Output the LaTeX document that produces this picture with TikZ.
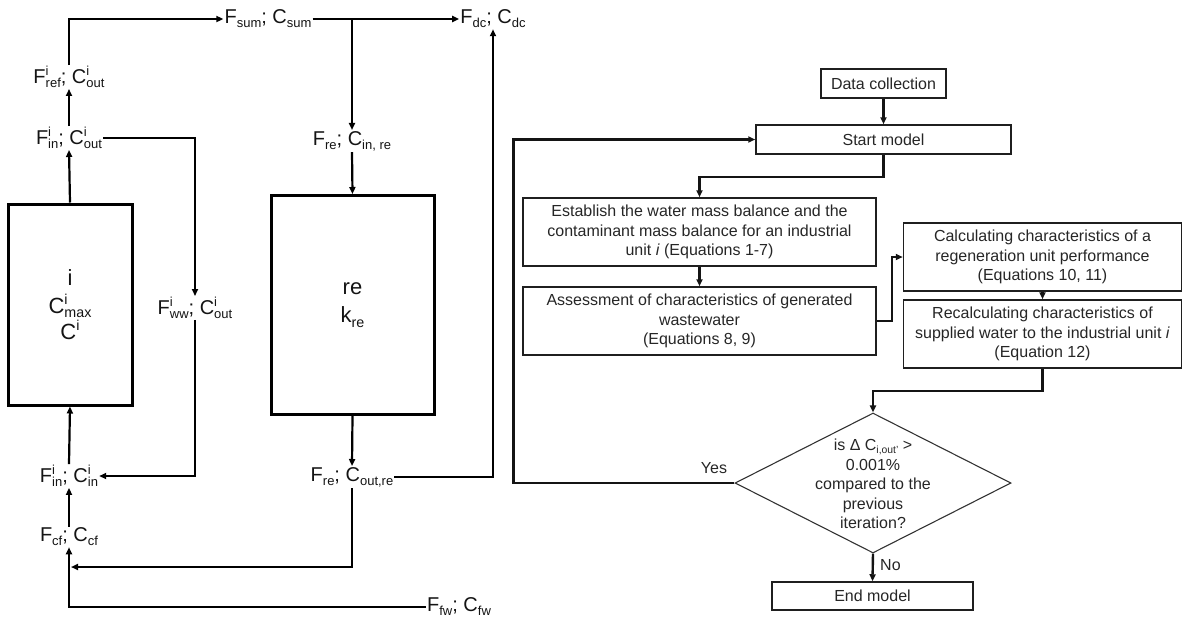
\documentclass[tikz,border=0pt]{standalone}
\usepackage{fontspec}
\setmainfont{Liberation Sans}
\usetikzlibrary{arrows.meta,shapes.geometric}
\newcommand\Sp[1]{\raisebox{0.4em}{\fontsize{0.65\dimexpr\fontdimen6\font\relax}{0pt}\selectfont #1}}
\newcommand\Sb[1]{\raisebox{-0.2em}{\fontsize{0.65\dimexpr\fontdimen6\font\relax}{0pt}\selectfont #1}}
\newcommand\SupSub[2]{\rlap{\Sp{#1}}\Sb{#2}}
\begin{document}
\begin{tikzpicture}[x=1pt,y=-1pt,
  lab/.style={font=\fontsize{20}{24}\selectfont, inner sep=1pt, text=black!92},
  unitbox/.style={draw, line width=3pt, align=center, font=\fontsize{22}{28}\selectfont, text=black!92},
  arr/.style={line width=2.2pt, -{Triangle[length=7pt,width=6pt]}},
  fbox/.style={draw=black!88, line width=1.5pt, align=center, font=\fontsize{16}{19.5}\selectfont, inner sep=0pt, text=black!85},
  farr/.style={line width=2.4pt, draw=black!92, -{Triangle[length=7pt,width=6pt]}},
  flab/.style={font=\fontsize{16}{19.5}\selectfont, text=black!85, inner sep=1pt}
]
\useasboundingbox (0,0) rectangle (1184,619);
% ---------------- left diagram ----------------
\node[lab] (sum) at (268,19) {F\Sb{sum}; C\Sb{sum}};
\node[lab] (dc) at (493,19) {F\Sb{dc}; C\Sb{dc}};
\node[lab] (ref) at (69,77) {F\SupSub{i}{ref}; C\SupSub{i}{out}};
\node[lab] (inout) at (69,138) {F\SupSub{i}{in}; C\SupSub{i}{out}};
\node[lab] (ww) at (195,308) {F\SupSub{i}{ww}; C\SupSub{i}{out}};
\node[lab] (inin) at (69,476) {F\SupSub{i}{in}; C\SupSub{i}{in}};
\node[lab] (cf) at (69,537) {F\Sb{cf}; C\Sb{cf}};
\node[lab] (fw) at (459,607) {F\Sb{fw}; C\Sb{fw}};
\node[lab] (rein) at (352,141) {F\Sb{re}; C\Sb{in, re}};
\node[lab] (reout) at (352,477) {F\Sb{re}; C\Sb{out,re}};
\node[unitbox, minimum width=124, minimum height=201] (unit) at (70,304.5)
  {i\\C\SupSub{i}{max}\\[-2pt]C\Sp{i}};
\node[unitbox, minimum width=163, minimum height=219] (rebox) at (352.5,305)
  {re\\k\Sb{re}};
\coordinate (m1) at (71,567);

\draw[arr] (ref.north) |- (sum.west);
\draw[arr] (sum.east) -- (dc.west);
\draw[arr] (sum.east -| rein.north) -- (rein.north);
\draw[arr] (rein.south) -- (rebox.north);
\draw[arr] (inout.north) -- (ref.south);
\draw[arr] (unit.north) -- (inout.south);
\draw[arr] (inout.east) -| (ww.north);
\draw[arr] (ww.south) |- (inin.east);
\draw[arr] (inin.north) -- (unit.south);
\draw[arr] (cf.north) -- (inin.south);
\draw[arr] (fw.west) -| (cf.south);
\draw[arr] (rebox.south) -- (reout.north);
\draw[arr] (reout.south) |- (m1);
\draw[arr] (reout.east) -| (dc.south);

% ---------------- flowchart ----------------
\node[fbox, minimum width=125, minimum height=29] (data) at (883.5,83.5) {Data collection};
\node[fbox, minimum width=255, minimum height=29] (start) at (883.5,139.5) {Start model};
\node[fbox, minimum width=353, minimum height=68] (est) at (699.5,232)
  {Establish the water mass balance and the\\contaminant mass balance for an industrial\\unit \textit{i} (Equations 1-7)};
\node[fbox, minimum width=353, minimum height=68] (ass) at (699.5,321)
  {Assessment of characteristics of generated\\wastewater\\(Equations 8, 9)};
\node[fbox, minimum width=278, minimum height=68] (calc) at (1042.5,257)
  {Calculating characteristics of a\\regeneration unit performance\\(Equations 10, 11)};
\node[fbox, minimum width=278, minimum height=68] (recalc) at (1042.5,334)
  {Recalculating characteristics of\\supplied water to the industrial unit \textit{i}\\(Equation 12)};
\node[diamond, draw=black!80, line width=1.1pt, minimum width=276, minimum height=140, inner sep=0pt] (dia) at (873,483) {};
\node[flab, align=center] (diatext) at (873,484)
  {is Δ C\Sb{i,out'} >\\0.001\%\\compared to the\\previous\\iteration?};
\node[fbox, minimum width=201, minimum height=28] (end) at (872.5,596) {End model};
\node[flab] (yes) at (714,468) {Yes};
\node[flab, anchor=west] (no) at (879,565) {No};

\draw[farr] (data.south) -- (start.north);
\draw[farr] (start.south) -- ++(0,22) -| (est.north);
\draw[farr] (est.south) -- (ass.north);
\draw[farr] (ass.east) -- ++(15,0) |- (calc.west);
\draw[farr] (calc.south) -- (recalc.north);
\draw[farr] (recalc.south) -- ++(0,22) -| (dia.north);
\draw[farr] (dia.west) -- ++(-221,0) |- (start.west);
\draw[farr] (dia.south) -- (end.north);
\end{tikzpicture}
\end{document}
